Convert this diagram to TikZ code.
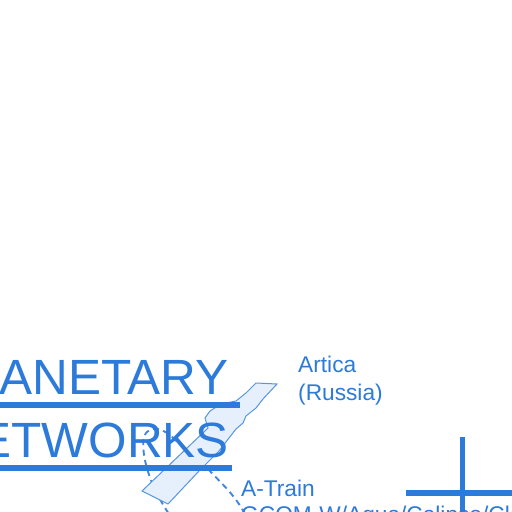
\documentclass[tikz,border=0pt]{standalone}
\usepackage{fontspec}
\setmainfont{Liberation Sans}
\begin{document}
\begin{tikzpicture}[x=1pt,y=-1pt,
  bluetxt/.style={text=netblue, inner sep=0pt},
  bigtitle/.style={bluetxt, font=\fontsize{49.5}{60}\selectfont},
  label/.style={bluetxt, font=\fontsize{22.7}{27}\selectfont, align=left},
  bar/.style={draw=netblue, line width=6pt},
  orbit/.style={draw=netblue!90, line width=1.9pt, dash pattern=on 6pt off 4.5pt},
  island/.style={draw=netblue!80, line width=1pt, fill=islandfill}
]
\definecolor{netblue}{RGB}{44,122,218}
\definecolor{islandfill}{RGB}{230,240,252}
\useasboundingbox (0,0) rectangle (512,512);
\clip (0,0) rectangle (512,512);
\fill[white] (0,0) rectangle (512,512);
% dashed orbit tracks
\draw[orbit] (176,441) .. controls (165,428) and (150,424) .. (144,436)
  .. controls (141,450) and (146,480) .. (169,514);
\draw[orbit] (208,469) .. controls (222,484) and (236,496) .. (246,516);
% island (Sakhalin)
\draw[island] (256,383) -- (277,384) -- (263,399) -- (256,408) -- (246,416)
  -- (243,423) -- (236,429) -- (229,438) -- (219,451) -- (199,471)
  -- (168,504) -- (142,491) -- (208,428) -- (205,418) -- (210,411)
  -- (221,404) -- (236,401) -- (246,393) -- cycle;
% title
\node[bigtitle, anchor=base east] (t1) at (229,394) {PLANETARY};
\node[bigtitle, anchor=base east] (t2) at (229,457) {NETWORKS};
\coordinate (b1a) at (0,405); \coordinate (b1b) at (240,405);
\coordinate (b2a) at (0,468); \coordinate (b2b) at (232,468);
\draw[bar] (b1a) -- (b1b);
\draw[bar] (b2a) -- (b2b);
% labels
\node[label, anchor=base west] (artica) at (298,372) {Artica};
\node[label, anchor=base west] (russia) at (298,400) {(Russia)};
\node[label, anchor=base west] (atrain) at (241,496) {A-Train};
\node[label, anchor=base west] (gcom) at (241,522) {GCOM-W/Aqua/Calipso/Cloudsat};
% cross
\coordinate (cv1) at (462,437); \coordinate (cv2) at (462,514);
\coordinate (ch1) at (406,493); \coordinate (ch2) at (514,493);
\draw[draw=netblue, line width=5pt] (cv1) -- (cv2);
\draw[draw=netblue, line width=6pt] (ch1) -- (ch2);
\end{tikzpicture}
\end{document}
